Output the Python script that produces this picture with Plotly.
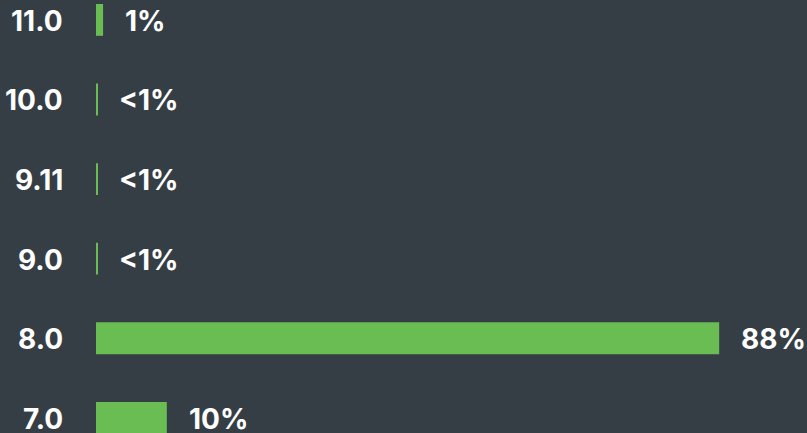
import plotly.graph_objects as go

versions = ["7.0", "8.0", "9.0", "9.11", "10.0", "11.0"]
shares = [10, 88, 0.15, 0.15, 0.15, 1]
labels = ["10%", "88%", "<1%", "<1%", "<1%", "1%"]

BG = "#363e45"
GREEN = "#6abd52"
FONT = "Inter"
SIZE = 28

fig = go.Figure(go.Bar(
    x=shares, y=versions, orientation="h",
    marker=dict(color=GREEN, line=dict(width=0)),
    width=0.4, hoverinfo="skip",
))

font = dict(family=FONT, size=SIZE, color="white", weight="bold")
for i, (v, s, t) in enumerate(zip(versions, shares, labels)):
    # value label right of the bar
    fig.add_annotation(x=s, y=i, xref="x", yref="y", text=t, showarrow=False,
                       xanchor="left", yanchor="middle", xshift=20, yshift=-1,
                       font=font)
    # category label left of the plot
    fig.add_annotation(x=0, y=i, xref="paper", yref="y", text=v, showarrow=False,
                       xanchor="right", yanchor="middle", xshift=-31, yshift=-1,
                       font=font)

fig.update_layout(
    width=807, height=433,
    margin=dict(l=96, r=0, t=0, b=0),
    paper_bgcolor=BG, plot_bgcolor=BG,
    showlegend=False,
    xaxis=dict(range=[0, 100.4], visible=False, fixedrange=True),
    yaxis=dict(type="category", categoryorder="array", categoryarray=versions,
               range=[-0.19, 5.25], showgrid=False, zeroline=False, showline=False,
               ticks="", showticklabels=False, fixedrange=True),
)

fig.write_html("out.html")
